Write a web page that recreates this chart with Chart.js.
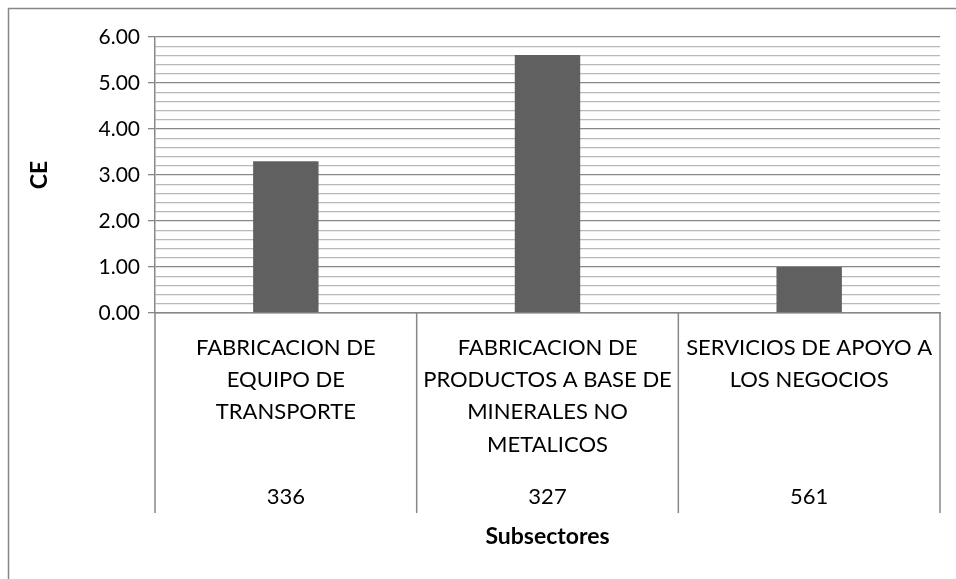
<!DOCTYPE html>
<html>
<head>
<meta charset="utf-8">
<script src="https://cdn.jsdelivr.net/npm/chart.js@4/dist/chart.umd.min.js"></script>
<style>
  html, body { margin: 0; padding: 0; background: #ffffff; }
  #wrap { width: 956px; height: 579px; position: relative; }
</style>
</head>
<body>
<div id="wrap"><canvas id="chart" width="956" height="579"></canvas></div>
<script>
// Subsector names (multi-line), their codes and CE values
const categories = [
  ["FABRICACION DE", "EQUIPO DE", "TRANSPORTE"],
  ["FABRICACION DE", "PRODUCTOS A BASE DE", "MINERALES NO", "METALICOS"],
  ["SERVICIOS DE APOYO A", "LOS NEGOCIOS"]
];
const codes = ["336", "327", "561"];
const ceValues = [3.30, 5.61, 1.00];
const yTicks = { min: 0, max: 6, step: 0.2 };

const FONT = "Lato, 'Open Sans', sans-serif";
const MAJOR = '#878787';
const MINOR = '#b8b8b8';

const isMajor = v => Math.abs(v - Math.round(v)) < 1e-6;

// Outer frame and the category separator lines that run through both label rows
const framePlugin = {
  id: 'frame',
  beforeDraw(chart) {
    const c = chart.ctx;
    c.save();
    c.fillStyle = '#ffffff';
    c.fillRect(0, 0, chart.width, chart.height);
    c.strokeStyle = MAJOR;
    c.lineWidth = 1.5;
    c.strokeRect(8.5, 8.5, chart.width + 20, chart.height + 20);
    c.restore();
  },
  afterDraw(chart) {
    const x = chart.scales.x;
    const x2 = chart.scales.x2;
    const c = chart.ctx;
    const top = x.top;
    const bottom = x2.top + 35;
    c.save();
    c.strokeStyle = MAJOR;
    c.lineWidth = 1.5;
    const n = categories.length;
    for (let i = 0; i <= n; i++) {
      let px;
      if (i === 0) px = x.left;
      else if (i === n) px = x.right;
      else px = (x.getPixelForValue(i - 1) + x.getPixelForValue(i)) / 2;
      c.beginPath();
      c.moveTo(px, top);
      c.lineTo(px, bottom);
      c.stroke();
    }
    c.restore();
  }
};

new Chart(document.getElementById('chart'), {
  type: 'bar',
  data: {
    labels: categories,
    datasets: [{
      label: 'CE',
      data: ceValues,
      backgroundColor: '#606060',
      borderWidth: 0,
      categoryPercentage: 1,
      barPercentage: 0.25
    }]
  },
  options: {
    responsive: false,
    animation: false,
    devicePixelRatio: 1,
    layout: { padding: { top: 37, right: 16, left: 20, bottom: 0 } },
    plugins: {
      legend: { display: false },
      tooltip: { enabled: false }
    },
    scales: {
      x: {
        type: 'category',
        position: 'bottom',
        grid: { display: false, drawTicks: false },
        border: { display: true, color: MAJOR, width: 1.5 },
        ticks: {
          color: '#000000',
          font: { family: FONT, size: 22, lineHeight: 1.46 },
          maxRotation: 0,
          autoSkip: false,
          padding: 19
        },
        afterFit(scale) { scale.height = 165; }
      },
      x2: {
        type: 'category',
        position: 'bottom',
        labels: codes,
        offset: true,
        grid: { display: false, drawTicks: false },
        border: { display: false },
        ticks: {
          color: '#000000',
          font: { family: FONT, size: 22 },
          maxRotation: 0,
          autoSkip: false,
          padding: 6
        },
        title: {
          display: true,
          text: 'Subsectores',
          color: '#000000',
          font: { family: FONT, size: 23, weight: 'bold' },
          padding: { top: 0, bottom: 29 }
        },
        afterFit(scale) { scale.height = 101; }
      },
      y: {
        min: yTicks.min,
        max: yTicks.max,
        grid: {
          color: ctx => isMajor(ctx.tick.value) ? MAJOR : MINOR,
          lineWidth: 1.3,
          tickLength: 7,
          tickColor: ctx => isMajor(ctx.tick.value) ? MAJOR : 'rgba(0,0,0,0)'
        },
        border: { display: true, color: MAJOR, width: 1.5 },
        ticks: {
          stepSize: yTicks.step,
          autoSkip: false,
          color: '#000000',
          font: { family: FONT, size: 21 },
          padding: 8,
          callback: v => isMajor(v) ? v.toFixed(2) : ''
        },
        title: {
          display: true,
          text: 'CE',
          color: '#000000',
          font: { family: FONT, size: 23, weight: 'bold' },
          padding: { top: 6, bottom: 0 }
        },
        afterFit(scale) { scale.width = 135; }
      }
    }
  },
  plugins: [framePlugin]
});
</script>
</body>
</html>
